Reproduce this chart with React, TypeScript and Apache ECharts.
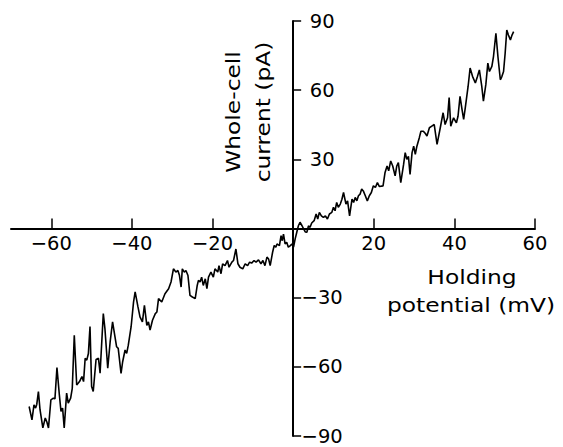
import React, { useEffect, useRef } from "react";
import * as echarts from "echarts";

// Tick values (labels omit 0, where the two axes cross)
const xTicks = [-60, -40, -20, 20, 40, 60];
const yTicks = [-90, -60, -30, 30, 60, 90];

// Axis titles
const yTitle = ["Whole-cell", "current (pA)"];
const xTitle = ["Holding", "potential (mV)"];

// Ramp recording: [holding potential (mV), whole-cell current (pA)]
const traceNegative: [number, number][] = [
  [-65.5, -77.2], [-64.8, -83.0], [-64.3, -76.5], [-63.9, -77.9], [-63.6, -76.2],
  [-63.2, -70.7], [-62.8, -78.6], [-62.1, -86.5], [-61.5, -82.2], [-61.1, -83.9],
  [-60.7, -86.5], [-60.1, -74.3], [-59.5, -73.6], [-59.1, -73.9], [-58.6, -60.3],
  [-58.0, -72.2], [-57.6, -79.3], [-57.2, -77.9], [-56.8, -86.5], [-56.2, -71.4],
  [-55.8, -75.7], [-55.2, -73.6], [-54.8, -69.3], [-54.3, -46.3], [-53.7, -67.9],
  [-53.0, -66.4], [-52.4, -64.2], [-52.0, -66.4], [-51.6, -56.3], [-51.2, -57.1],
  [-50.8, -54.2], [-50.4, -42.5], [-50.0, -68.5], [-49.6, -70.7], [-48.9, -56.8],
  [-48.3, -56.3], [-47.9, -62.8], [-47.1, -36.9], [-46.7, -43.4], [-46.0, -60.6],
  [-45.4, -49.1], [-44.8, -40.5], [-44.2, -47.0], [-43.8, -51.3], [-43.4, -52.0],
  [-42.7, -62.8], [-42.3, -57.8], [-41.7, -52.7], [-41.3, -54.2], [-40.9, -50.6],
  [-40.2, -42.6], [-39.6, -31.9], [-39.2, -27.5], [-38.5, -34.0], [-38.0, -38.3],
  [-37.4, -40.5], [-36.9, -33.3], [-36.3, -42.0], [-35.9, -40.5], [-35.5, -44.1],
  [-34.9, -39.8], [-34.2, -36.9], [-33.8, -36.2], [-33.4, -30.4], [-32.6, -31.9],
  [-31.8, -28.3], [-30.9, -26.1], [-30.3, -23.2], [-29.7, -17.5], [-29.1, -18.9],
  [-28.6, -18.2], [-28.2, -20.4], [-27.8, -25.4], [-27.5, -17.5], [-27.0, -18.9],
  [-26.6, -18.2], [-26.1, -20.4], [-25.6, -29.0], [-25.0, -29.7], [-24.3, -30.4],
  [-23.8, -24.7], [-23.5, -22.5], [-23.1, -23.2], [-22.7, -21.1], [-22.3, -24.7],
  [-21.8, -21.8], [-21.4, -26.1], [-21.0, -21.1], [-20.4, -18.9], [-19.8, -21.1],
  [-19.4, -17.5], [-18.7, -18.9], [-18.4, -16.1], [-17.9, -19.6], [-17.5, -15.3],
  [-16.9, -16.1], [-16.3, -13.9], [-15.9, -16.8], [-15.2, -14.6], [-14.8, -13.9],
  [-14.2, -8.9], [-13.7, -15.3], [-13.2, -16.8], [-12.5, -17.5], [-11.9, -15.3],
  [-11.3, -16.1], [-10.8, -14.6], [-10.3, -15.0], [-9.7, -13.9], [-9.2, -14.6],
  [-8.6, -13.6], [-8.0, -15.3], [-7.5, -13.9], [-7.0, -16.1], [-6.5, -12.4],
  [-6.1, -13.2], [-5.7, -16.1], [-5.1, -10.3], [-4.7, -7.4], [-4.3, -8.1],
  [-4.0, -6.7], [-3.4, -7.4], [-3.0, -3.1], [-2.7, -5.3], [-2.4, -2.4],
  [-2.0, -6.7], [-1.6, -6.0], [-1.2, -8.1], [-0.7, -7.4], [-0.3, -6.7],
];

const tracePositive: [number, number][] = [
  [0.1, -8.1], [0.5, -4.5], [0.9, -1.6], [1.3, 1.2], [1.7, 2.7],
  [2.2, 1.2], [2.6, -0.2], [3.0, -1.5], [3.4, -1.6], [3.8, 1.1],
  [4.2, 0.5], [4.6, 2.4], [5.2, 3.4], [5.7, 6.3], [6.1, 4.1],
  [6.5, 7.0], [7.0, 5.5], [7.5, 4.8], [8.0, 5.5], [8.5, 4.1],
  [9.0, 6.3], [9.6, 7.0], [10.0, 9.2], [10.4, 7.7], [10.8, 11.3],
  [11.2, 9.2], [11.7, 10.6], [12.1, 12.7], [12.5, 15.6], [13.1, 10.6],
  [13.5, 12.0], [14.0, 5.5], [14.6, 12.7], [15.0, 11.3], [15.4, 13.5],
  [15.8, 12.0], [16.2, 14.2], [16.6, 14.9], [17.0, 17.1], [17.4, 16.3],
  [17.9, 14.2], [18.4, 12.0], [18.9, 14.2], [19.4, 15.6], [19.9, 18.5],
  [20.4, 17.8], [20.9, 19.9], [21.4, 18.2], [22.3, 18.5], [22.8, 24.3],
  [23.3, 27.1], [23.7, 25.0], [24.2, 29.3], [24.7, 27.1], [25.3, 22.8],
  [25.7, 27.1], [26.1, 28.6], [26.7, 19.9], [27.4, 27.8], [27.8, 32.9],
  [28.2, 30.0], [28.6, 31.3], [29.0, 23.5], [29.5, 32.9], [29.9, 35.7],
  [30.3, 32.2], [30.7, 35.7], [31.3, 39.4], [31.7, 42.2], [32.3, 42.2],
  [32.8, 41.2], [33.2, 40.1], [33.8, 43.7], [34.4, 44.4], [35.0, 45.1],
  [35.7, 36.5], [36.5, 43.7], [37.2, 50.2], [37.7, 45.1], [38.3, 48.0],
  [38.7, 56.8], [39.1, 44.4], [39.8, 48.0], [40.5, 45.8], [40.9, 48.7],
  [41.4, 57.3], [41.9, 51.6], [42.3, 47.3], [42.7, 52.3], [43.4, 61.6],
  [43.9, 69.6], [44.5, 66.0], [45.2, 63.1], [45.7, 65.8], [46.2, 68.8],
  [46.8, 61.6], [47.2, 55.2], [47.8, 62.4], [48.3, 71.7], [48.7, 68.1],
  [49.3, 70.3], [49.7, 74.6], [50.3, 84.7], [50.8, 74.6], [51.4, 64.5],
  [51.8, 66.0], [52.2, 68.1], [52.6, 76.1], [53.0, 86.1], [53.4, 83.9],
  [53.9, 81.8], [54.3, 83.9], [54.7, 85.4],
];

const FONT = "DejaVu Sans";

// Layout of the plotting area (pixels)
const GRID_LEFT = 11;
const GRID_TOP = 21;
const GRID_W = 524;
const GRID_H = 415;
const X_MIN = -70;
const X_MAX = 60;
const Y_MIN = -90;
const Y_MAX = 90;

export default function App() {
  const ref = useRef<HTMLDivElement>(null);

  useEffect(() => {
    if (!ref.current) return;
    const chart = echarts.init(ref.current, null, { renderer: "svg" });
    const fmt = (v: number) => (v < 0 ? "\u2212" + Math.abs(v) : String(v));
    const titleStyle = (text: string) => ({
      text,
      fontFamily: FONT,
      fontSize: 19,
      fill: "#000",
      align: "center",
      verticalAlign: "middle",
      textAlign: "center",
      textVerticalAlign: "middle",
    });

    // Shift the axes so that they cross at (0, 0), like the figure
    const xAxisOffset = -((0 - Y_MIN) / (Y_MAX - Y_MIN)) * GRID_H;
    const yAxisOffset = -((0 - X_MIN) / (X_MAX - X_MIN)) * GRID_W;

    chart.setOption({
      animation: false,
      backgroundColor: "#ffffff",
      grid: {
        left: GRID_LEFT,
        top: GRID_TOP,
        width: GRID_W,
        height: GRID_H,
        containLabel: false,
        outerBoundsMode: "none",
      },
      xAxis: {
        type: "value",
        min: X_MIN,
        max: X_MAX,
        position: "bottom",
        offset: xAxisOffset,
        axisLine: { show: true, onZero: false, lineStyle: { color: "#000", width: 2 } },
        axisTick: {
          show: true,
          inside: true,
          length: 10,
          customValues: xTicks,
          lineStyle: { color: "#000", width: 1.5 },
        },
        axisLabel: {
          customValues: xTicks,
          formatter: fmt,
          margin: 5,
          color: "#000",
          fontFamily: FONT,
          fontSize: 19.5,
        },
        splitLine: { show: false },
      },
      yAxis: {
        type: "value",
        min: Y_MIN,
        max: Y_MAX,
        position: "left",
        offset: yAxisOffset,
        axisLine: { show: true, onZero: false, lineStyle: { color: "#000", width: 2 } },
        axisTick: {
          show: true,
          inside: true,
          length: 8,
          customValues: yTicks,
          lineStyle: { color: "#000", width: 1.5 },
        },
        axisLabel: {
          customValues: yTicks,
          formatter: fmt,
          inside: true,
          align: "center",
          margin: 29,
          color: "#000",
          fontFamily: FONT,
          fontSize: 19.5,
        },
        splitLine: { show: false },
      },
      series: [
        {
          type: "line",
          data: [...traceNegative, ...tracePositive],
          showSymbol: false,
          symbol: "none",
          silent: true,
          clip: false,
          lineStyle: { color: "#000", width: 1.6 },
        },
      ],
      graphic: [
        { type: "text", x: 233, y: 112, rotation: Math.PI / 2, scaleX: 1.23, style: titleStyle(yTitle[0]) },
        { type: "text", x: 263, y: 112, rotation: Math.PI / 2, scaleX: 1.23, style: titleStyle(yTitle[1]) },
        { type: "text", x: 472, y: 277, scaleX: 1.23, style: titleStyle(xTitle[0]) },
        { type: "text", x: 471, y: 305, scaleX: 1.23, style: titleStyle(xTitle[1]) },
      ],
    });

    return () => chart.dispose();
  }, []);

  return (
    <div
      ref={ref}
      style={{ position: "fixed", left: 0, top: 0, width: 563, height: 447, background: "#fff" }}
    />
  );
}
